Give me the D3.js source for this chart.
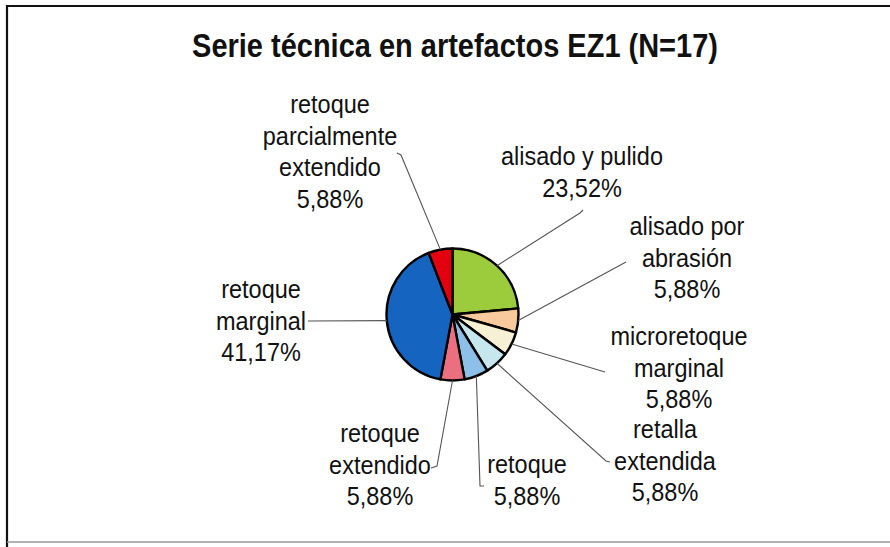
<!DOCTYPE html>
<html>
<head>
<meta charset="utf-8">
<script src="https://cdn.jsdelivr.net/npm/d3@7"></script>
<style>
  body { margin: 0; background: #fff; }
  text { font-family: "Liberation Sans", Arial, sans-serif; fill: #111; }
</style>
</head>
<body>
<script>
// data: artefact counts per technique (N=17)
const categories = [
    "alisado y pulido",
    "alisado por abrasión",
    "microretoque marginal",
    "retalla extendida",
    "retoque",
    "retoque extendido",
    "retoque marginal",
    "retoque parcialmente extendido"
];
const counts = [4, 1, 1, 1, 1, 1, 7, 1];
// how each category name is broken into lines in its label
const labelLines = [
    ["alisado y pulido"],
    ["alisado por", "abrasión"],
    ["microretoque", "marginal"],
    ["retalla", "extendida"],
    ["retoque"],
    ["retoque", "extendido"],
    ["retoque", "marginal"],
    ["retoque", "parcialmente", "extendido"]
];
const colors = ["#9ccb3c", "#f8c99c", "#f6f0d4", "#c6e7ee", "#8cc0e8", "#ec6f80", "#1565c0", "#e3000f"];

//layout
const w = 890, h = 547;
const cx = 452.5, cy = 314.5, r = 66;
const lineGap = 31.5;
const stretch = 1.1; // the scanned text is a bit taller than plain Arial
// label block position (center x, first baseline) and where the leader leaves the label
const labelPos = [
    { x: 582, y: 165, lead: [[583, 210], [580, 213]] },
    { x: 687, y: 235, lead: [[626, 262]] },
    { x: 679, y: 345, lead: [[605, 372]] },
    { x: 665, y: 438, lead: [[610, 462], [606, 461]] },
    { x: 527, y: 473, lead: [[484, 486], [480, 486]] },
    { x: 380, y: 442, lead: [[431, 468], [437, 466]] },
    { x: 261, y: 298, lead: [[308, 321]] },
    { x: 330, y: 113, lead: [[397, 153], [401, 155]] }
];

const total = d3.sum(counts);
// Excel-style truncated percentage with decimal comma
const pct = v => (Math.floor(v / total * 10000) / 100).toFixed(2).replace(".", ",") + "%";

var svg = d3.select("body")
    .append("svg")
    .attr("width", w)
    .attr("height", h);

//chart frame (open on the right side, as in the scan)
svg.append("path")
    .attr("d", `M${w + 5},6 H7 V${h}`)
    .style("fill", "none")
    .style("stroke", "#111")
    .style("stroke-width", 2.2);
svg.append("line")
    .attr("x1", 7).attr("x2", w)
    .attr("y1", 542).attr("y2", 542)
    .style("stroke", "#999")
    .style("stroke-width", 1.5);

svg.append("text")
    .attr("transform", `translate(455,57) scale(1,1.12)`)
    .attr("text-anchor", "middle")
    .style("font-size", "29px")
    .style("font-weight", "bold")
    .text("Serie técnica en artefactos EZ1 (N=17)");

var pie = d3.pie().sort(null).value(d => d);
var arcs = pie(counts);
var arc = d3.arc().innerRadius(0).outerRadius(r);

var g = svg.append("g").attr("transform", `translate(${cx},${cy})`);

g.selectAll(".slice")
    .data(arcs)
    .enter()
    .append("path")
    .attr("class", "slice")
    .attr("d", arc)
    .style("fill", (d, i) => colors[i])
    .style("stroke", "#000")
    .style("stroke-width", 2.4)
    .style("stroke-linejoin", "round");

//leader lines: from label to the middle of the slice's outer edge
const edgePoint = d => {
    const a = (d.startAngle + d.endAngle) / 2;
    return [cx + r * Math.sin(a), cy - r * Math.cos(a)];
};

svg.selectAll(".leader")
    .data(arcs)
    .enter()
    .append("path")
    .attr("class", "leader")
    .attr("d", (d, i) => d3.line()(labelPos[i].lead.concat([edgePoint(d)])))
    .style("fill", "none")
    .style("stroke", "#555")
    .style("stroke-width", 1.1);

//labels, one text per line so each can be stretched about its own baseline
var labels = svg.selectAll(".label")
    .data(arcs)
    .enter()
    .append("g")
    .attr("class", "label");

labels.each(function (d, i) {
    const lines = labelLines[i].concat([pct(d.value)]);
    d3.select(this).selectAll("text")
        .data(lines)
        .enter()
        .append("text")
        .attr("text-anchor", "middle")
        .attr("transform", (t, j) => `translate(${labelPos[i].x},${labelPos[i].y + j * lineGap}) scale(1,${stretch})`)
        .style("font-size", "23.5px")
        .text(t => t);
});
</script>
</body>
</html>
